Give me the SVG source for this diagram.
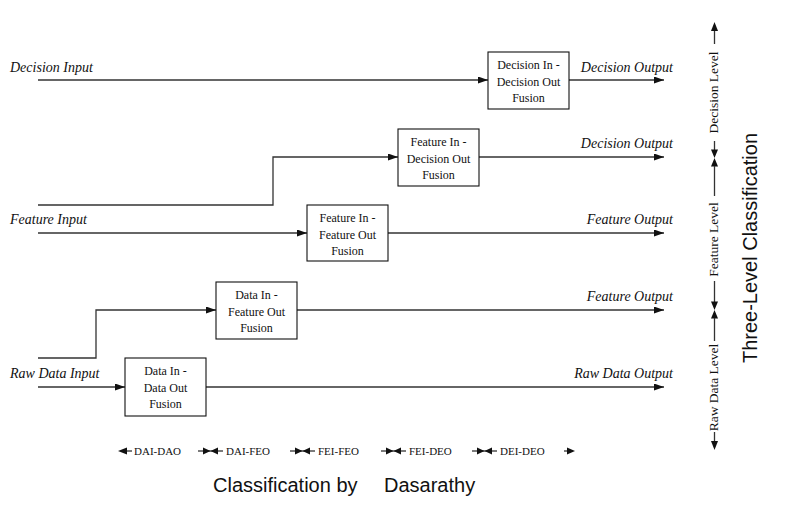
<svg xmlns="http://www.w3.org/2000/svg" width="788" height="516" viewBox="0 0 788 516">
<style>
.box{fill:#fff;stroke:#111;stroke-width:1.1}
.bt{font-family:"Liberation Serif",serif;font-size:12px;fill:#111;text-anchor:middle}
.lbl{font-family:"Liberation Serif",serif;font-style:italic;font-size:14px;fill:#111}
.end{text-anchor:end}
.con{fill:none;stroke:#333;stroke-width:1.3}
.lv{font-family:"Liberation Serif",serif;font-size:13.5px;fill:#111;text-anchor:middle}
.lg{font-family:"Liberation Serif",serif;font-size:11px;fill:#111}
.ttl{font-family:"Liberation Sans",Arial,sans-serif;font-size:20px;fill:#111}
.head{fill:#111}
</style>
<defs>
<marker id="arr" markerUnits="userSpaceOnUse" markerWidth="10" markerHeight="8" refX="10" refY="3.5" orient="auto-start-reverse">
<path d="M0,0 L10,3.5 L0,7 z" fill="#111"/>
</marker>
</defs>
<rect width="788" height="516" fill="#fff"/>

<g id="connectors">
<path class="con" d="M38,80 H488" marker-end="url(#arr)"/>
<path class="con" d="M569,80 H664" marker-end="url(#arr)"/>
<path class="con" d="M38,205 H273 V157 H398" marker-end="url(#arr)"/>
<path class="con" d="M479,157 H664" marker-end="url(#arr)"/>
<path class="con" d="M38,233 H307" marker-end="url(#arr)"/>
<path class="con" d="M388,233 H664" marker-end="url(#arr)"/>
<path class="con" d="M38,358 H96 V310 H216" marker-end="url(#arr)"/>
<path class="con" d="M297,310 H664" marker-end="url(#arr)"/>
<path class="con" d="M38,387 H125" marker-end="url(#arr)"/>
<path class="con" d="M206,387 H664" marker-end="url(#arr)"/>
</g>

<g id="labels">
<text class="lbl" x="10" y="72">Decision Input</text>
<text class="lbl end" x="673" y="72">Decision Output</text>
<text class="lbl end" x="673" y="148">Decision Output</text>
<text class="lbl" x="10" y="224">Feature Input</text>
<text class="lbl end" x="673" y="224">Feature Output</text>
<text class="lbl end" x="673" y="301">Feature Output</text>
<text class="lbl" x="10" y="378">Raw Data Input</text>
<text class="lbl end" x="673" y="378">Raw Data Output</text>
</g>

<g id="dei-deo">
<rect class="box" x="488" y="52" width="81" height="57"/>
<text class="bt" x="528.5" y="69">Decision In -</text>
<text class="bt" x="528.5" y="86">Decision Out</text>
<text class="bt" x="528.5" y="102">Fusion</text>
</g>
<g id="fei-deo">
<rect class="box" x="398" y="129" width="81" height="57"/>
<text class="bt" x="438.5" y="146">Feature In -</text>
<text class="bt" x="438.5" y="163">Decision Out</text>
<text class="bt" x="438.5" y="179">Fusion</text>
</g>
<g id="fei-feo">
<rect class="box" x="307" y="205" width="81" height="56"/>
<text class="bt" x="347.5" y="222">Feature In -</text>
<text class="bt" x="347.5" y="239">Feature Out</text>
<text class="bt" x="347.5" y="255">Fusion</text>
</g>
<g id="dai-feo">
<rect class="box" x="216" y="282" width="81" height="57"/>
<text class="bt" x="256.5" y="299">Data In -</text>
<text class="bt" x="256.5" y="316">Feature Out</text>
<text class="bt" x="256.5" y="332">Fusion</text>
</g>
<g id="dai-dao">
<rect class="box" x="125" y="358" width="81" height="58"/>
<text class="bt" x="165.5" y="375">Data In -</text>
<text class="bt" x="165.5" y="392">Data Out</text>
<text class="bt" x="165.5" y="408">Fusion</text>
</g>

<g id="levels">
<path class="con" d="M714.5,31 V44"/>
<path class="con" d="M714.5,141 V150"/>
<path class="head" d="M714.5,22 L718,31 L711,31 z"/>
<path class="head" d="M711,149.5 L718,149.5 L714.5,158 z"/>
<text class="lv" transform="translate(718,92.5) rotate(-90)">Decision Level</text>
<path class="head" d="M714.5,158 L718,166.5 L711,166.5 z"/>
<path class="con" d="M714.5,166 V196"/>
<path class="con" d="M714.5,281 V302"/>
<path class="head" d="M711,301.5 L718,301.5 L714.5,310 z"/>
<text class="lv" transform="translate(718,239.5) rotate(-90)">Feature Level</text>
<path class="head" d="M714.5,310 L718,318.5 L711,318.5 z"/>
<path class="con" d="M714.5,318 V341"/>
<path class="con" d="M714.5,432 V442"/>
<path class="head" d="M711,441 L718,441 L714.5,450 z"/>
<text class="lv" transform="translate(718,387.5) rotate(-90)">Raw Data Level</text>
<text class="ttl" transform="translate(757,248) rotate(-90)" text-anchor="middle">Three-Level Classification</text>
</g>

<g id="legend">
<path class="con" d="M126,451 H132"/>
<path class="head" d="M118,451 L127,447.5 L127,454.5 z"/>
<text class="lg" x="134" y="455">DAI-DAO</text>
<path class="con" d="M198,451 H223"/>
<path class="head" d="M203,447.5 L210.5,451 L203,454.5 z M218,447.5 L210.5,451 L218,454.5 z"/>
<text class="lg" x="226" y="455">DAI-FEO</text>
<path class="con" d="M290,451 H315"/>
<path class="head" d="M295,447.5 L302.5,451 L295,454.5 z M310,447.5 L302.5,451 L310,454.5 z"/>
<text class="lg" x="318" y="455">FEI-FEO</text>
<path class="con" d="M381,451 H406"/>
<path class="head" d="M386,447.5 L393.5,451 L386,454.5 z M401,447.5 L393.5,451 L401,454.5 z"/>
<text class="lg" x="409" y="455">FEI-DEO</text>
<path class="con" d="M472,451 H497"/>
<path class="head" d="M477,447.5 L484.5,451 L477,454.5 z M492,447.5 L484.5,451 L492,454.5 z"/>
<text class="lg" x="500" y="455">DEI-DEO</text>
<path class="con" d="M564,451 H568"/>
<path class="head" d="M567,447.5 L575,451 L567,454.5 z"/>
</g>

<text id="title" class="ttl" x="213" y="492">Classification by<tspan x="384">Dasarathy</tspan></text>
</svg>
